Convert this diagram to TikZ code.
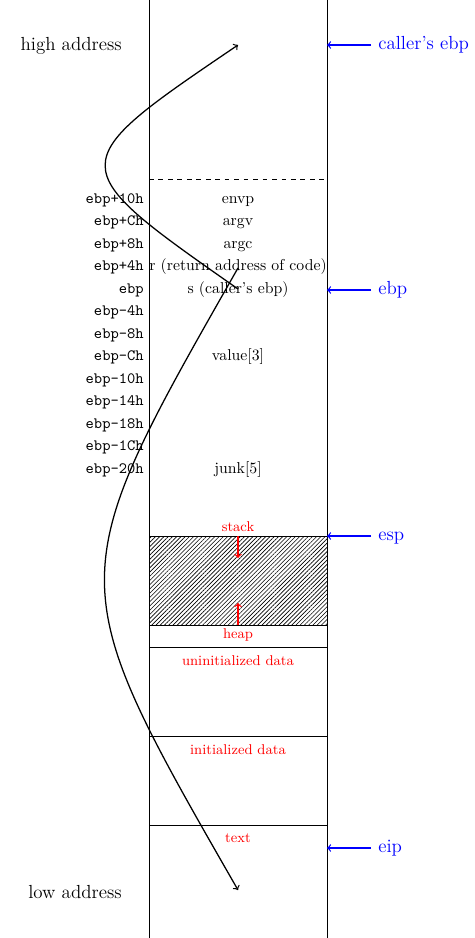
\documentclass[tikz,border=0pt]{standalone}
\usetikzlibrary{patterns.meta}
\begin{document}
\begin{tikzpicture}[x=0.022272cm,y=-0.022272cm,
  txt/.style={inner sep=0pt, text height=1.5ex, text depth=.5ex},
  mem/.style={txt},
  offs/.style={txt, font=\ttfamily, anchor=east},
  seg/.style={txt, red, font=\small},
  reg/.style={txt, blue, font=\large, anchor=west},
  addr/.style={txt, font=\large, anchor=east},
  regarrow/.style={->, thick, blue},
  flow/.style={->, thick},
  growth/.style={->, thick, red},
  hatch/.style={pattern={Lines[angle=45,distance=1.9pt,line width=0.4pt]}}]
\useasboundingbox (0,0) rectangle (474,938);
% column
\coordinate (colL) at (149,0);
\coordinate (colR) at (327,0);
\draw (149,0) -- (149,938);
\draw (327,0) -- (327,938);
\draw[dashed] (149,179) -- (327,179);
\draw[hatch] (149,536) rectangle (327,625);
\draw (149,647) -- (327,647);
\draw (149,736) -- (327,736);
\draw (149,825) -- (327,825);
% address labels
\node[addr] (high) at (122,47) {high address};
\node[addr] (low) at (122,895) {low address};
% offsets
\node[offs] (o10) at (144,200) {ebp+10h};
\node[offs] (oC) at (144,222.5) {ebp+Ch};
\node[offs] (o8) at (144,245) {ebp+8h};
\node[offs] (o4) at (144,267.5) {ebp+4h};
\node[offs] (o0) at (144,290) {ebp};
\node[offs] (m4) at (144,312.5) {ebp-4h};
\node[offs] (m8) at (144,335) {ebp-8h};
\node[offs] (mC) at (144,357.5) {ebp-Ch};
\node[offs] (m10) at (144,380) {ebp-10h};
\node[offs] (m14) at (144,402.5) {ebp-14h};
\node[offs] (m18) at (144,425) {ebp-18h};
\node[offs] (m1C) at (144,447.5) {ebp-1Ch};
\node[offs] (m20) at (144,470) {ebp-20h};
% memory contents
\node[mem] (envp) at (238,200) {envp};
\node[mem] (argv) at (238,222.5) {argv};
\node[mem] (argc) at (238,245) {argc};
\node[mem] (r) at (238,267.5) {r (return address of code)};
\node[mem] (s) at (238,290) {s (caller's ebp)};
\node[mem] (value) at (238,357.5) {value[3]};
\node[mem] (junk) at (238,470) {junk[5]};
% segments
\node[seg] (stack) at (238,528) {stack};
\node[seg] (heap) at (238,635) {heap};
\node[seg] (bss) at (238,662) {uninitialized data};
\node[seg] (data) at (238,751) {initialized data};
\node[seg] (text) at (238,839) {text};
% growth arrows
\coordinate (stackedge) at (238,536);
\coordinate (stackgrow) at (238,558);
\coordinate (heapedge) at (238,625);
\coordinate (heapgrow) at (238,603);
\draw[growth] (stackedge) -- (stackgrow);
\draw[growth] (heapedge) -- (heapgrow);
% registers
\node[reg] (callerebp) at (378,46) {caller's ebp};
\node[reg] (ebp) at (378,291) {ebp};
\node[reg] (esp) at (378,537) {esp};
\node[reg] (eip) at (378,849) {eip};
\coordinate (pcaller) at (371,45);
\coordinate (pebp) at (371,290);
\coordinate (pesp) at (371,536);
\coordinate (peip) at (371,848);
\draw[regarrow] (pcaller) -- (pcaller -| colR);
\draw[regarrow] (pebp) -- (pebp -| colR);
\draw[regarrow] (pesp) -- (pesp -| colR);
\draw[regarrow] (peip) -- (peip -| colR);
% flow curves
\coordinate (sstart) at (238,289);
\coordinate (rstart) at (238,268);
\coordinate (hiend) at (238,45);
\coordinate (loend) at (238,890);
\draw[flow] (sstart) .. controls (61,165) .. (hiend);
\draw[flow] (rstart) .. controls (60,580) .. (loend);
\end{tikzpicture}
\end{document}
